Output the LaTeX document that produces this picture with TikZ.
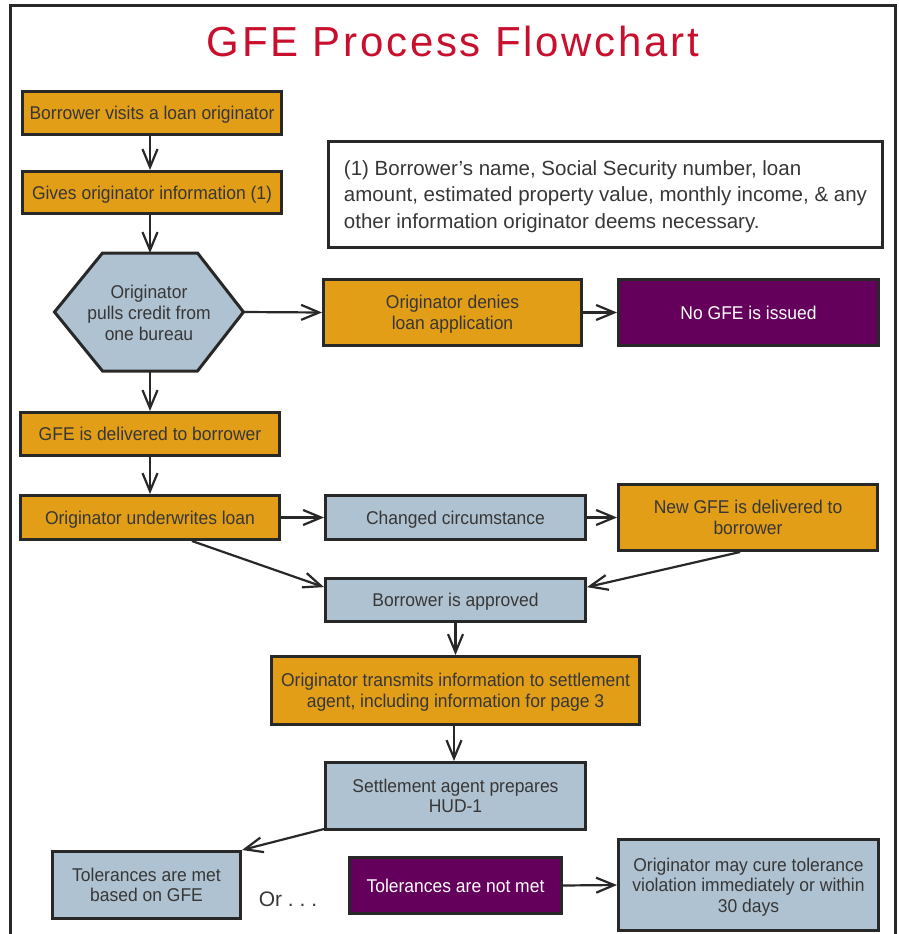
\documentclass[tikz,border=0pt]{standalone}
\usepackage{fontspec}
\setmainfont{Liberation Sans}
\newfontfamily\boxfont{Liberation Sans}[FakeStretch=0.945]
\newfontfamily\titlefont{Liberation Sans}[LetterSpace=6.5]
\usetikzlibrary{arrows.meta,calc}
\definecolor{orangeF}{RGB}{225,158,22}
\definecolor{blueF}{RGB}{175,194,209}
\definecolor{purpleF}{RGB}{100,0,92}
\definecolor{titleC}{RGB}{200,16,46}
\definecolor{lineC}{RGB}{40,40,40}
\definecolor{txtC}{RGB}{55,55,55}
\begin{document}
\begin{tikzpicture}[x=1pt,y=-1pt,
  box/.style={draw=lineC, line width=3pt, align=center, inner sep=0pt, text depth=0pt,
    font=\boxfont\fontsize{18.5}{20.5}\selectfont, text=txtC},
  obox/.style={box, fill=orangeF},
  bbox/.style={box, fill=blueF},
  pbox/.style={box, fill=purpleF, text=white},
  arr/.style={draw=lineC, line width=2.2pt, -{Straight Barb[length=18pt,width=15pt,line width=2.2pt]}}
]
\clip (0,0) rectangle (899,934);
\fill[white] (0,0) rectangle (899,934);
\draw[lineC, line width=3pt] (10,6) rectangle (895,960);

\node[anchor=base, text=titleC, font=\titlefont\fontsize{42}{46}\selectfont] (title) at (453,57) {GFE Process Flowchart};

\node[obox, minimum width=259pt, minimum height=43pt] (b1) at (152,113) {Borrower visits a loan originator};
\node[obox, minimum width=259pt, minimum height=42pt] (b2) at (152,192.5) {Gives originator information (1)};

\node[draw=lineC, fill=white, line width=3pt, minimum width=554pt, minimum height=106pt, align=left, inner sep=0pt, text depth=0pt, text=txtC, font=\fontsize{20.5}{26.5}\selectfont] (note) at (605.5,194.5) {(1) Borrower’s name, Social Security number, loan\\amount, estimated property value, monthly income, \& any\\other information originator deems necessary.};

\node[minimum width=189pt, minimum height=118pt, inner sep=0pt, outer sep=0pt] (hex) at (149,312) {};
\draw[lineC, line width=3pt, fill=blueF] ($(hex.north west)+(48,0)$) -- ($(hex.north east)+(-46,0)$) -- (hex.east) -- ($(hex.south east)+(-46,0)$) -- ($(hex.south west)+(48,0)$) -- (hex.west) -- cycle;
\node[align=center, inner sep=0pt, text depth=0pt, text=txtC, font=\boxfont\fontsize{18.5}{21}\selectfont] (hext) at (149,312.5) {Originator\\pulls credit from\\one bureau};

\node[obox, minimum width=258pt, minimum height=66pt] (deny) at (452.5,312.5) {Originator denies\\loan application};
\node[pbox, minimum width=260pt, minimum height=66pt] (nogfe) at (748.5,312.5) {No GFE is issued};

\node[obox, minimum width=259pt, minimum height=43pt] (gfe) at (150,434) {GFE is delivered to borrower};
\node[obox, minimum width=259pt, minimum height=44pt] (uw) at (150,517.5) {Originator underwrites loan};
\node[bbox, minimum width=260pt, minimum height=44pt] (cc) at (455.5,517.5) {Changed circumstance};
\node[obox, minimum width=259pt, minimum height=66pt] (ng) at (748,517.5) {New GFE is delivered to\\borrower};
\node[bbox, minimum width=260pt, minimum height=43pt] (ap) at (455.5,600) {Borrower is approved};
\node[obox, minimum width=368pt, minimum height=68pt] (tr) at (455.5,690.5) {Originator transmits information to settlement\\agent, including information for page 3};
\node[bbox, minimum width=260pt, minimum height=67pt] (sa) at (455.5,796) {Settlement agent prepares\\HUD-1};
\node[bbox, minimum width=188pt, minimum height=67pt] (tm) at (146.5,885) {Tolerances are met\\based on GFE};
\node[text=txtC, inner sep=0pt, text depth=0pt, font=\fontsize{21}{24}\selectfont] (or) at (288,899) {Or .\ .\ .};
\node[pbox, minimum width=212pt, minimum height=56pt] (nm) at (455.5,885.5) {Tolerances are not met};
\node[bbox, minimum width=260pt, minimum height=91pt] (cure) at (748.5,885) {Originator may cure tolerance\\violation immediately or within\\30 days};

\draw[arr] (b1.south -| 150,0) -- (b2.north -| 150,0);
\draw[arr] (b2.south -| 150,0) -- (hex.north -| 150,0);
\draw[arr] (hex.east) -- (deny.west);
\draw[arr] (deny.east) -- (nogfe.west);
\draw[arr] (hex.south -| 150,0) -- (gfe.north);
\draw[arr] (gfe.south) -- (uw.north);
\draw[arr] (uw.east) -- (cc.west);
\draw[arr] (cc.east) -- (ng.west);
\draw[arr] ($(uw.south west)!0.66!(uw.south east)$) -- ($(ap.north west)!0.22!(ap.south west)$);
\draw[arr] ($(ng.south west)!0.47!(ng.south east)$) -- ($(ap.north east)!0.22!(ap.south east)$);
\draw[arr] (ap.south) -- (tr.north);
\draw[arr] (tr.south -| 454,0) -- (sa.north -| 454,0);
\draw[arr] ($(sa.south west)+(0,-2)$) -- (tm.north east);
\draw[arr] (nm.east) -- (cure.west);
\end{tikzpicture}
\end{document}
